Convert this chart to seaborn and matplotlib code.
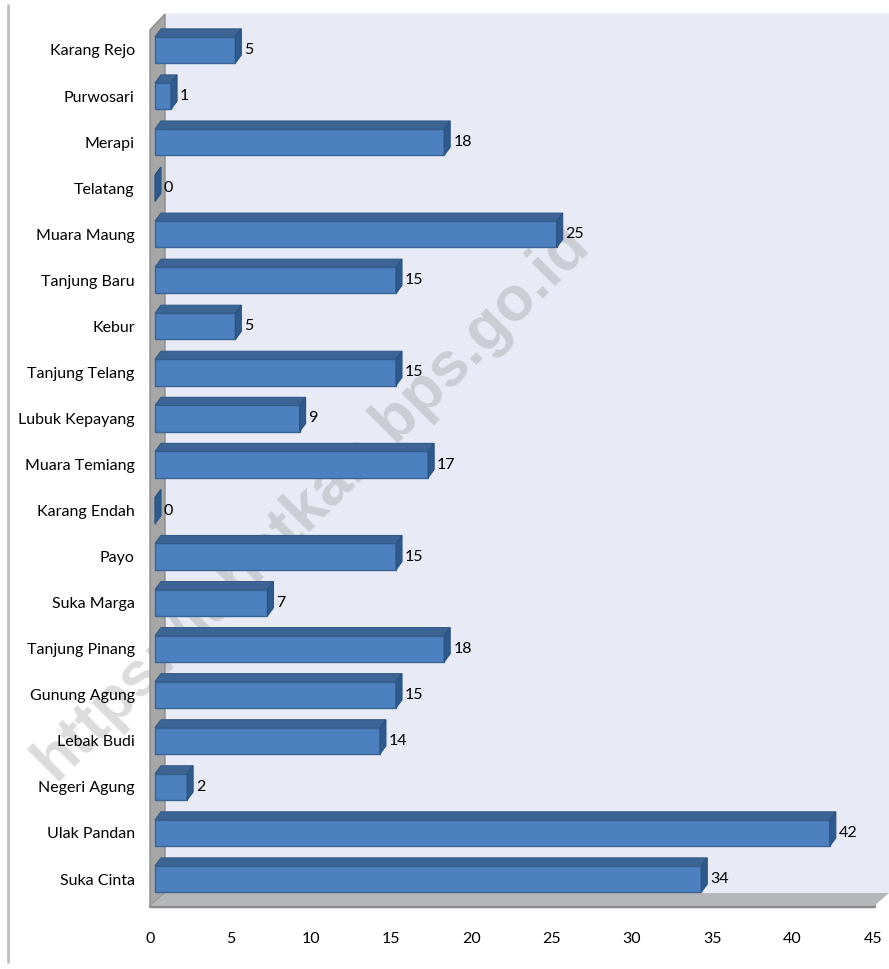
import matplotlib
matplotlib.use("Agg")
import matplotlib.pyplot as plt
import matplotlib.transforms as mtransforms
from matplotlib.patches import Polygon, Rectangle
from matplotlib.lines import Line2D
import seaborn as sns
import pandas as pd

categories = ["Karang Rejo", "Purwosari", "Merapi", "Telatang", "Muara Maung",
              "Tanjung Baru", "Kebur", "Tanjung Telang", "Lubuk Kepayang",
              "Muara Temiang", "Karang Endah", "Payo", "Suka Marga",
              "Tanjung Pinang", "Gunung Agung", "Lebak Budi", "Negeri Agung",
              "Ulak Pandan", "Suka Cinta"]
values = [5, 1, 18, 0, 25, 15, 5, 15, 9, 17, 0, 15, 7, 18, 15, 14, 2, 42, 34]
x_ticks = [0, 5, 10, 15, 20, 25, 30, 35, 40, 45]
watermark = "https://lahatkab.bps.go.id"

df = pd.DataFrame({"desa": categories, "jumlah": values})

sns.set_theme(style="white")
plt.rcParams["font.family"] = ["Lato", "DejaVu Sans"]

W, H = 889, 969
fig = plt.figure(figsize=(W / 100, H / 100), dpi=100)
fig.patch.set_facecolor("white")

# pixel (top-left origin) -> figure transform
pix = mtransforms.Affine2D().scale(1 / W, -1 / H).translate(0, 1) + fig.transFigure

# 3D box: back wall, side wall, floor
fig.patches.append(Rectangle((165, 14), 724, 879, transform=pix, facecolor="#E8EBF5",
                             edgecolor="none", zorder=-3))
fig.lines.append(Line2D([165, 889], [14, 14], transform=pix, color="#CFCFCF", lw=1, zorder=-3))
fig.patches.append(Polygon([(150, 30), (165, 14), (165, 893), (150, 906)], closed=True,
                           transform=pix, facecolor="#A6A6A6", edgecolor="#8C8C8C",
                           lw=1, zorder=-0.5))
fig.patches.append(Polygon([(150, 906), (165, 893), (889, 893), (874, 906)], closed=True,
                           transform=pix, facecolor="#B4B6B9", edgecolor="none", zorder=-0.5))
fig.lines.append(Line2D([150, 874], [906, 906], transform=pix, color="#8A8A8A", lw=2.5, zorder=-0.5))
fig.lines.append(Line2D([8, 8], [5, 962], transform=pix, color="#BFBFBF", lw=2, zorder=-3))

# watermark
fig.text(312 / W, 1 - 502 / H, watermark, rotation=45, ha="center", va="center",
         fontsize=45, fontweight="bold", family=["Liberation Sans", "DejaVu Sans"],
         color="#808080", alpha=0.28, zorder=-1)

ax = fig.add_axes([150 / W, 63 / H, 723 / W, 879 / H])
ax.set_facecolor("none")

sns.barplot(data=df, x="jumlah", y="desa", orient="h", color="#4C80BF",
            width=0.57, saturation=1, edgecolor="#3A6494", linewidth=1, ax=ax)

ax.set_xlim(0, 45)
ax.set_ylim(18 + 27 / 46.06, -23 / 46.06)

shift = mtransforms.ScaledTranslation(5 / 100, 0, fig.dpi_scale_trans)
tr = ax.transData + shift

dx = 6 / 16.067
dy = 8 / 46.06
bars = list(ax.patches)
for p, v in zip(bars, values):
    p.set_transform(tr)
    x0 = p.get_x()
    x1 = x0 + p.get_width()
    yt = p.get_y()
    yb = yt + p.get_height()
    top = Polygon([(x0, yt), (x1, yt), (x1 + dx, yt - dy), (x0 + dx, yt - dy)], closed=True,
                  facecolor="#3C6596", edgecolor="#345A87", lw=0.8, transform=tr, zorder=3)
    right = Polygon([(x1, yt), (x1 + dx, yt - dy), (x1 + dx, yb - dy), (x1, yb)], closed=True,
                    facecolor="#2F5A8C", edgecolor="#2B5382", lw=0.8, transform=tr, zorder=3)
    ax.add_patch(top)
    ax.add_patch(right)
    ax.text(x1 + dx, (yt + yb) / 2, str(v),
            transform=tr + mtransforms.ScaledTranslation(3 / 100, 0, fig.dpi_scale_trans),
            ha="left", va="center", fontsize=11.5, color="black", zorder=4)

ax.set_xticks(x_ticks)
ax.set_xticklabels([str(t) for t in x_ticks])
ax.tick_params(axis="x", length=0, pad=19, labelsize=11.5, colors="black")
ax.tick_params(axis="y", length=0, pad=11, labelsize=11.5, colors="black")
ax.set_xlabel("")
ax.set_ylabel("")
for s in ax.spines.values():
    s.set_visible(False)
ax.grid(False)

fig.savefig("out.png", dpi=100)
